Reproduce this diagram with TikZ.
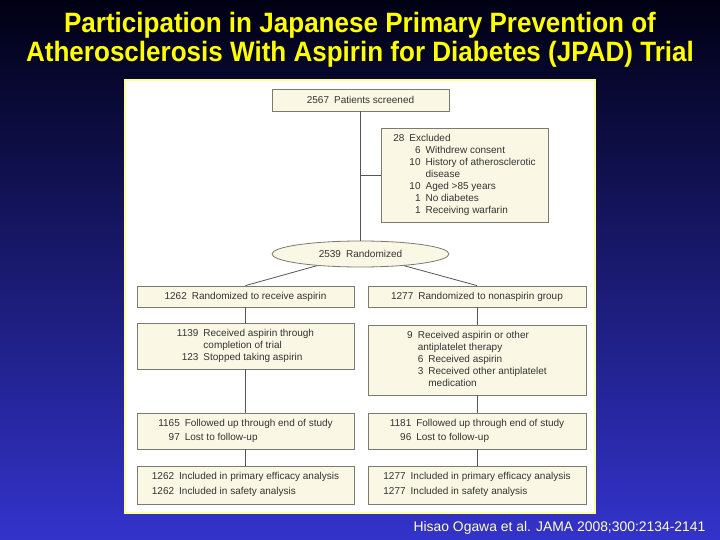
\documentclass[tikz,border=0pt]{standalone}
\usepackage{fontspec}
\setmainfont{Liberation Sans}
\newfontfamily\titlefont[FakeStretch=0.93]{Liberation Sans}
\usepackage{tikz}
\usetikzlibrary{shapes.geometric,calc}
\definecolor{slidetop}{HTML}{000014}
\definecolor{slidebottom}{HTML}{3333CC}
\definecolor{titleyellow}{HTML}{FFFF00}
\definecolor{citeyellow}{HTML}{FFFFC4}
\definecolor{panelrim}{HTML}{FFFF99}
\definecolor{boxfill}{HTML}{FAF8E4}
\definecolor{boxrim}{HTML}{7A7A70}
\definecolor{boxtext}{HTML}{333333}
\definecolor{linegray}{HTML}{555555}
\newcommand{\gap}{\hspace{5pt}}

\begin{document}
\begin{tikzpicture}[x=1pt,y=-1pt,
  flowbox/.style={draw=boxrim,fill=boxfill,line width=0.8pt,inner sep=0pt,align=center,
    text=boxtext,font=\fontsize{10}{12}\selectfont},
  flowline/.style={draw=linegray,line width=0.8pt}]
  \useasboundingbox (0,0) rectangle (720,540);
  \shade[top color=slidetop,bottom color=slidebottom] (0,0) rectangle (720,540);
  \node[anchor=base,text=titleyellow,font=\titlefont\bfseries\fontsize{28}{29}\selectfont] (title1) at (360,33) {Participation in Japanese Primary Prevention of};
  \node[anchor=base,text=titleyellow,font=\titlefont\bfseries\fontsize{28}{29}\selectfont] (title2) at (360,62) {Atherosclerosis With Aspirin for Diabetes (JPAD) Trial};
  \draw[panelrim,fill=white,line width=1.5pt] (125,80) rectangle (595,513);

  \node[flowbox,minimum width=177,minimum height=22] (scr) at (360.5,100) {2567\gap Patients screened};
  \node[flowbox,minimum width=167,minimum height=94] (exc) at (464.5,175) {%
    \begin{tabular}{@{}r@{\gap}r@{\gap}l@{}}
      28 & \multicolumn{2}{@{}l@{}}{Excluded}\\
         & 6 & Withdrew consent\\
         & 10 & History of atherosclerotic\\
         &    & disease\\
         & 10 & Aged >85 years\\
         & 1 & No diabetes\\
         & 1 & Receiving warfarin
    \end{tabular}};
  \node[flowbox,shape=ellipse,minimum width=177,minimum height=26] (rand) at (360.5,254) {2539\gap Randomized};

  \node[flowbox,minimum width=217,minimum height=21] (a1) at (245.5,296.5) {1262\gap Randomized to receive aspirin};
  \node[flowbox,minimum width=218,minimum height=21] (n1) at (477,296.5) {1277\gap Randomized to nonaspirin group};
  \node[flowbox,minimum width=217,minimum height=46] (a2) at (245.5,346) {%
    \begin{tabular}{@{}r@{\gap}l@{}}
      1139 & Received aspirin through\\
           & completion of trial\\
      123 & Stopped taking aspirin
    \end{tabular}};
  \node[flowbox,minimum width=218,minimum height=70] (n2) at (477,360) {%
    \begin{tabular}{@{}r@{\gap}r@{\gap}l@{}}
      9 & \multicolumn{2}{@{}l@{}}{Received aspirin or other}\\
        & \multicolumn{2}{@{}l@{}}{antiplatelet therapy}\\
        & 6 & Received aspirin\\
        & 3 & Received other antiplatelet\\
        &   & medication
    \end{tabular}};
  \node[flowbox,minimum width=217,minimum height=36] (a3) at (245.5,431) {%
    \begin{tabular}{@{}r@{\gap}l@{}}
      1165 & Followed up through end of study\\[2pt]
      97 & Lost to follow-up
    \end{tabular}};
  \node[flowbox,minimum width=218,minimum height=36] (n3) at (477,431) {%
    \begin{tabular}{@{}r@{\gap}l@{}}
      1181 & Followed up through end of study\\[2pt]
      96 & Lost to follow-up
    \end{tabular}};
  \node[flowbox,minimum width=217,minimum height=38] (a4) at (245.5,485) {%
    \begin{tabular}{@{}r@{\gap}l@{}}
      1262 & Included in primary efficacy analysis\\[3pt]
      1262 & Included in safety analysis
    \end{tabular}};
  \node[flowbox,minimum width=218,minimum height=38] (n4) at (477,485) {%
    \begin{tabular}{@{}r@{\gap}l@{}}
      1277 & Included in primary efficacy analysis\\[3pt]
      1277 & Included in safety analysis
    \end{tabular}};

  \coordinate (excjoin) at (scr.south |- exc.west);
  \draw[flowline] (scr) -- (rand);
  \draw[flowline] (excjoin) -- (exc);
  \draw[flowline] (rand.195) -- (a1.north);
  \draw[flowline] (rand.345) -- (n1.north);
  \draw[flowline] (a1) -- (a2) (a2) -- (a3) (a3) -- (a4);
  \draw[flowline] (n1) -- (n2) (n2) -- (n3) (n3) -- (n4);

  \node[anchor=base,text=citeyellow,font=\fontsize{13.9}{16}\selectfont] (cite) at (559.5,531) {Hisao Ogawa et al. JAMA 2008;300:2134-2141};
\end{tikzpicture}
\end{document}
